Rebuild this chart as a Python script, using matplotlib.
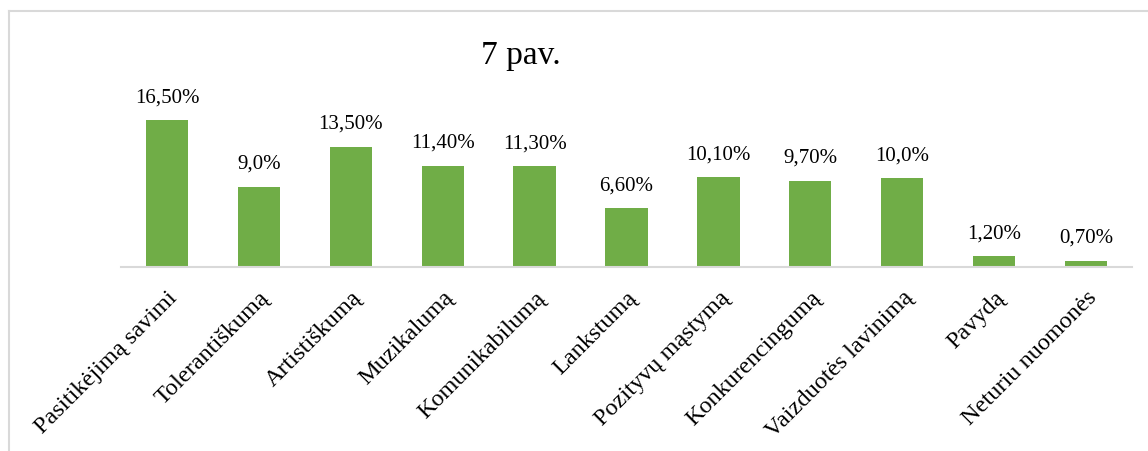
import matplotlib.pyplot as plt
from matplotlib.lines import Line2D

plt.rcParams['font.family'] = ['Liberation Serif', 'DejaVu Serif']

kategorijos = ["Pasitikėjimą savimi", "Tolerantiškumą", "Artistiškumą", "Muzikalumą",
               "Komunikabilumą", "Lankstumą", "Pozityvų mąstymą", "Konkurencingumą",
               "Vaizduotės lavinimą", "Pavydą", "Neturiu nuomonės"]
reiksmes = [16.5, 9.0, 13.5, 11.4, 11.3, 6.6, 10.1, 9.7, 10.0, 1.2, 0.7]
etiketes = ["16,50%", "9,0%", "13,50%", "11,40%", "11,30%", "6,60%",
            "10,10%", "9,70%", "10,0%", "1,20%", "0,70%"]

W, H = 1148, 452
fig = plt.figure(figsize=(W / 100, H / 100), dpi=100)
ax = fig.add_axes([121 / W, (H - 268) / H, 1011 / W, 160.2 / H])

x = list(range(len(kategorijos)))
bars = ax.bar(x, reiksmes, width=0.46, color="#70AD47", zorder=2)
for b, t in zip(bars, etiketes):
    ax.annotate(t, (b.get_x() + b.get_width() / 2, b.get_height()),
                xytext=(0, 10), textcoords="offset points",
                ha="center", va="bottom", fontsize=15, annotation_clip=False)

ax.set_xlim(-0.5, len(x) - 0.5)
ax.set_ylim(0, 18)
ax.set_yticks([])
ax.set_xticks(x)
ax.set_xticklabels(kategorijos, rotation=45, ha="right", rotation_mode="anchor",
                   fontsize=17.5)
ax.tick_params(axis="x", length=0, pad=14)
for s in ["top", "right", "left"]:
    ax.spines[s].set_visible(False)
ax.spines["bottom"].set_color("#D9D9D9")
ax.spines["bottom"].set_linewidth(1.5)

fig.text(521 / W, 1 - 56 / H, "7 pav.", ha="center", va="center", fontsize=24)

# chart frame (top and left edges visible)
fig.add_artist(Line2D([9 / W, 1], [1 - 12 / H, 1 - 12 / H], color="#D9D9D9", lw=1.5))
fig.add_artist(Line2D([9 / W, 9 / W], [0, 1 - 12 / H], color="#D9D9D9", lw=1.5))

fig.savefig("out.png", dpi=100)
